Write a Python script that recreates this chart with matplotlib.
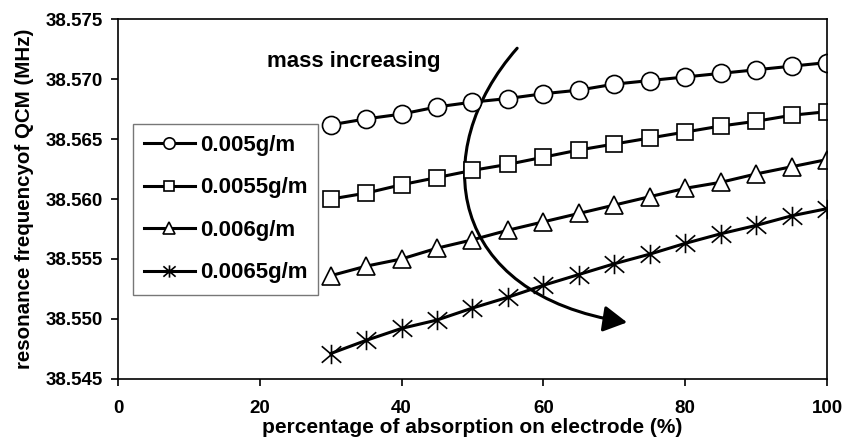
import matplotlib.pyplot as plt
from matplotlib.path import Path
from matplotlib.patches import FancyArrowPatch

plt.rcParams['font.family'] = ['Liberation Sans', 'DejaVu Sans']
plt.rcParams['font.weight'] = 'bold'

x = [30, 35, 40, 45, 50, 55, 60, 65, 70, 75, 80, 85, 90, 95, 100]
f_0050 = [38.5662, 38.5667, 38.5671, 38.5677, 38.5681, 38.5684, 38.5688, 38.5691,
          38.5696, 38.5699, 38.5702, 38.5705, 38.5708, 38.5711, 38.5714]
f_0055 = [38.5600, 38.5605, 38.5612, 38.5618, 38.5624, 38.5629, 38.5635, 38.5641,
          38.5646, 38.5651, 38.5656, 38.5661, 38.5665, 38.5670, 38.5673]
f_0060 = [38.5536, 38.5544, 38.5550, 38.5559, 38.5566, 38.5574, 38.5581, 38.5588,
          38.5595, 38.5602, 38.5609, 38.5614, 38.5621, 38.5627, 38.5633]
f_0065 = [38.5471, 38.5482, 38.5492, 38.5499, 38.5509, 38.5518, 38.5528, 38.5537,
          38.5546, 38.5554, 38.5563, 38.5571, 38.5578, 38.5586, 38.5592]
labels = ['0.005g/m', '0.0055g/m', '0.006g/m', '0.0065g/m']

# asterisk: vertical bar plus an X
star = Path([(0, -1), (0, 1), (-1, -0.85), (1, 0.85), (-1, 0.85), (1, -0.85)],
            [Path.MOVETO, Path.LINETO, Path.MOVETO, Path.LINETO, Path.MOVETO, Path.LINETO])

fig = plt.figure(figsize=(8.46, 4.41), dpi=100)
ax = fig.add_axes([0.1395, 0.1413, 0.838, 0.8145])

ax.plot(x, f_0050, '-o', color='black', lw=2.2, ms=13, mfc='white', mec='black', mew=1.2, label=labels[0])
ax.plot(x, f_0055, '-s', color='black', lw=2.2, ms=12, mfc='white', mec='black', mew=1.2, label=labels[1])
ax.plot(x, f_0060, '-^', color='black', lw=2.2, ms=13, mfc='white', mec='black', mew=1.2, label=labels[2])
ax.plot(x, f_0065, '-', marker=star, color='black', lw=2.2, ms=14, mec='black', mew=1.2, label=labels[3])

ax.set_xlim(0, 100)
ax.set_ylim(38.545, 38.575)
ax.set_xticks([0, 20, 40, 60, 80, 100])
ax.set_yticks([38.545, 38.550, 38.555, 38.560, 38.565, 38.570, 38.575])
ax.set_yticklabels(['%.3f' % v for v in ax.get_yticks()])
ax.tick_params(labelsize=13.5, width=1.2, length=5)
ax.tick_params(axis='y', pad=6)
ax.tick_params(axis='x', pad=10)
for s in ax.spines.values():
    s.set_linewidth(1.2)

ax.set_xlabel('percentage of absorption on electrode (%)', fontsize=15, fontweight='bold', labelpad=1)
ax.set_ylabel('resonance frequencyof QCM (MHz)', fontsize=14.8, fontweight='bold', labelpad=8)

ax.text(21, 38.5715, 'mass increasing', fontsize=16, fontweight='bold', va='center', ha='left')

# curved arrow
curve = Path([(56.3, 38.5726), (43.5, 38.5640), (46.5, 38.5520), (71.8, 38.5497)],
             [Path.MOVETO, Path.CURVE4, Path.CURVE4, Path.CURVE4])
ax.add_patch(FancyArrowPatch(path=curve, arrowstyle='-|>,head_length=0.9,head_width=0.5',
                             mutation_scale=16, color='black', lw=2.2))

leg = ax.legend(loc='upper left', bbox_to_anchor=(0.0207, 0.71), fontsize=16, frameon=True,
                fancybox=False, edgecolor='#555555', handlelength=2.3, labelspacing=0.97,
                borderpad=0.5, handletextpad=0.22, borderaxespad=0, markerscale=0.63)
leg.get_frame().set_linewidth(1.0)

fig.savefig('out.png', dpi=100)
